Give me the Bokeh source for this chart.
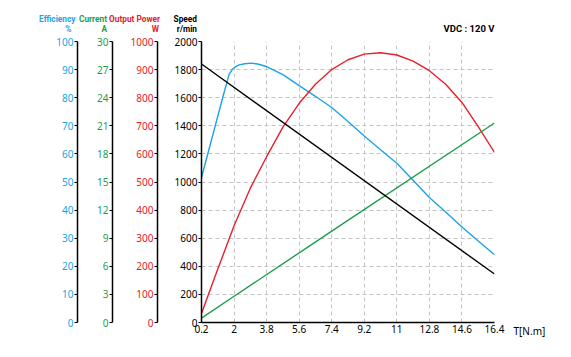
from bokeh.plotting import figure
from bokeh.models import Range1d, LinearAxis, FixedTicker, Label, CustomJSTickFormatter
from bokeh.layouts import column, row
from bokeh.embed import file_html
from bokeh.resources import INLINE

# ---- data ----
torque = [0.2, 1.1, 2.0, 2.9, 3.8, 4.7, 5.6, 6.5, 7.4, 8.3, 9.2, 10.1, 11.0, 11.9, 12.8, 13.7, 14.6, 15.5, 16.4]
power_w = [32, 190, 344, 478, 590, 695, 780, 848, 900, 935, 955, 960, 952, 930, 896, 848, 783, 697, 605]

eff_torque = [0.2, 0.6, 1.0, 1.4, 1.55, 1.73, 1.92, 2.1, 2.28, 2.6, 2.93, 3.3, 3.8, 4.7, 5.6, 6.5, 7.4,
              8.3, 9.2, 10.1, 11.0, 11.9, 12.8, 13.7, 14.6, 15.5, 16.4]
efficiency_pct = [51.6, 61.3, 71.0, 80.7, 84.2, 88.4, 90.2, 91.1, 91.7, 92.1, 92.3, 92.0, 91.1, 88.2, 84.3,
                  80.5, 76.5, 71.5, 66.4, 61.5, 56.7, 50.6, 44.5, 39.3, 34.0, 29.0, 24.1]

cur_torque = [0.2, 2.0, 7.4, 16.4]
current_a = [0.47, 2.8, 9.75, 21.3]

speed_torque = [0.2, 16.4]
speed_rpm = [1840, 345]

x_ticks = [0.2, 2, 3.8, 5.6, 7.4, 9.2, 11, 12.8, 14.6, 16.4]
speed_ticks = [0, 200, 400, 600, 800, 1000, 1200, 1400, 1600, 1800, 2000]
power_ticks = [0, 100, 200, 300, 400, 500, 600, 700, 800, 900, 1000]
current_ticks = [0, 3, 6, 9, 12, 15, 18, 21, 24, 27, 30]
eff_ticks = [0, 10, 20, 30, 40, 50, 60, 70, 80, 90, 100]

axis_titles = ["Efficiency", "Current", "Output Power", "Speed"]
axis_units = ["%", "A", "W", "r/min"]
note_text = "VDC : 120 V"
x_title = "T[N.m]"

BLUE = "#1ba3e6"
GREEN = "#1a9f4b"
RED = "#e8202a"
BLACK = "#000000"
TICK_FONT = "Noto Sans"
HEAD_FONT = "Roboto"

HEAD_H = 36
TOTAL_W = 554
MAIN_W = 505
BODY_H = 308

# ---------------- main chart ----------------
p = figure(width=MAIN_W, height=BODY_H, x_range=Range1d(0.2, 16.4), y_range=Range1d(0, 2000),
           output_backend="svg", toolbar_location=None,
           min_border_left=201, min_border_right=MAIN_W - 201 - 293, min_border_top=5, min_border_bottom=22)
p.outline_line_color = None
p.extra_y_ranges = {"pow": Range1d(0, 1000), "cur": Range1d(0, 30), "eff": Range1d(0, 100)}

p.xgrid.ticker = FixedTicker(ticks=x_ticks)
p.ygrid.ticker = FixedTicker(ticks=speed_ticks)
for g in (p.xgrid, p.ygrid):
    g.grid_line_color = "#c4c4c4"
    g.grid_line_dash = "4 3"
    g.grid_line_width = 1

xa = p.xaxis[0]
xa.ticker = FixedTicker(ticks=x_ticks)
xa.formatter = CustomJSTickFormatter(code="return String(Math.round(tick*10)/10);")
xa.axis_line_color = BLACK
xa.axis_line_width = 1.5
xa.major_tick_out = 0
xa.major_tick_in = 0
xa.minor_tick_out = 0
xa.minor_tick_in = 0
xa.major_label_standoff = 2
xa.major_label_text_font = TICK_FONT
xa.major_label_text_font_size = "10px"
xa.major_label_text_color = BLACK


def style_axis(ax, color, pad):
    ax.axis_line_color = BLACK
    ax.axis_line_width = 1.5
    ax.major_tick_out = 3
    ax.major_tick_in = 0
    ax.minor_tick_out = 0
    ax.minor_tick_in = 0
    ax.major_tick_line_color = BLACK
    ax.major_tick_line_width = 1.2
    ax.major_label_standoff = 1
    ax.major_label_text_font = TICK_FONT
    ax.major_label_text_font_size = "10px"
    ax.major_label_text_color = color
    ax.axis_label = " "
    ax.axis_label_text_font_size = "1px"
    ax.axis_label_standoff = pad


ya = p.yaxis[0]
ya.ticker = FixedTicker(ticks=speed_ticks)
style_axis(ya, BLACK, 10)

pow_axis = LinearAxis(y_range_name="pow", ticker=FixedTicker(ticks=power_ticks))
style_axis(pow_axis, RED, 11)
p.add_layout(pow_axis, "left")

cur_axis = LinearAxis(y_range_name="cur", ticker=FixedTicker(ticks=current_ticks))
style_axis(cur_axis, GREEN, 12)
p.add_layout(cur_axis, "left")

eff_axis = LinearAxis(y_range_name="eff", ticker=FixedTicker(ticks=eff_ticks))
style_axis(eff_axis, BLUE, 2)
p.add_layout(eff_axis, "left")

p.line(eff_torque, efficiency_pct, y_range_name="eff", line_color=BLUE, line_width=1.4)
p.line(torque, power_w, y_range_name="pow", line_color=RED, line_width=1.4)
p.line(cur_torque, current_a, y_range_name="cur", line_color=GREEN, line_width=1.4)
p.line(speed_torque, speed_rpm, line_color=BLACK, line_width=1.4)


def text_strip(w, h):
    f = figure(width=w, height=h, x_range=Range1d(0, w), y_range=Range1d(h, 0),
               x_axis_type=None, y_axis_type=None, output_backend="svg", toolbar_location=None,
               min_border=0)
    f.outline_line_color = None
    f.xgrid.visible = False
    f.ygrid.visible = False
    return f


# ---------------- header strip (axis titles, note) ----------------
head = text_strip(MAIN_W, HEAD_H)
title_colors = [BLUE, GREEN, RED, BLACK]
title_right = [75, 106.5, 159.5, 196.5]
unit_right = [71, 106.5, 158.5, 196.5]
for t1, t2, col, r1, r2 in zip(axis_titles, axis_units, title_colors, title_right, unit_right):
    head.add_layout(Label(x=r1, y=18.5, text=t1, text_align="right", text_baseline="middle",
                          text_font=HEAD_FONT, text_font_size="8.3px", text_font_style="bold",
                          text_color=col))
    head.add_layout(Label(x=r2, y=28, text=t2, text_align="right", text_baseline="middle",
                          text_font=HEAD_FONT, text_font_size="8.3px", text_font_style="bold",
                          text_color=col))
head.add_layout(Label(x=494, y=27.5, text=note_text, text_align="right", text_baseline="middle",
                      text_font=HEAD_FONT, text_font_size="9.5px", text_font_style="bold",
                      text_color=BLACK))

# ---------------- right strip (x axis title), full height ----------------
SIDE_H = HEAD_H + BODY_H
side = text_strip(TOTAL_W - MAIN_W, SIDE_H)
side.add_layout(Label(x=8, y=330, text=x_title, text_align="left", text_baseline="middle",
                      text_font=TICK_FONT, text_font_size="10px", text_color=BLACK))

# nest so that no two plots are direct siblings (avoids frame alignment)
layout = row(column(head, row(p, spacing=0), spacing=0), side, spacing=0)

open("out.html", "w").write(file_html(layout, INLINE))
